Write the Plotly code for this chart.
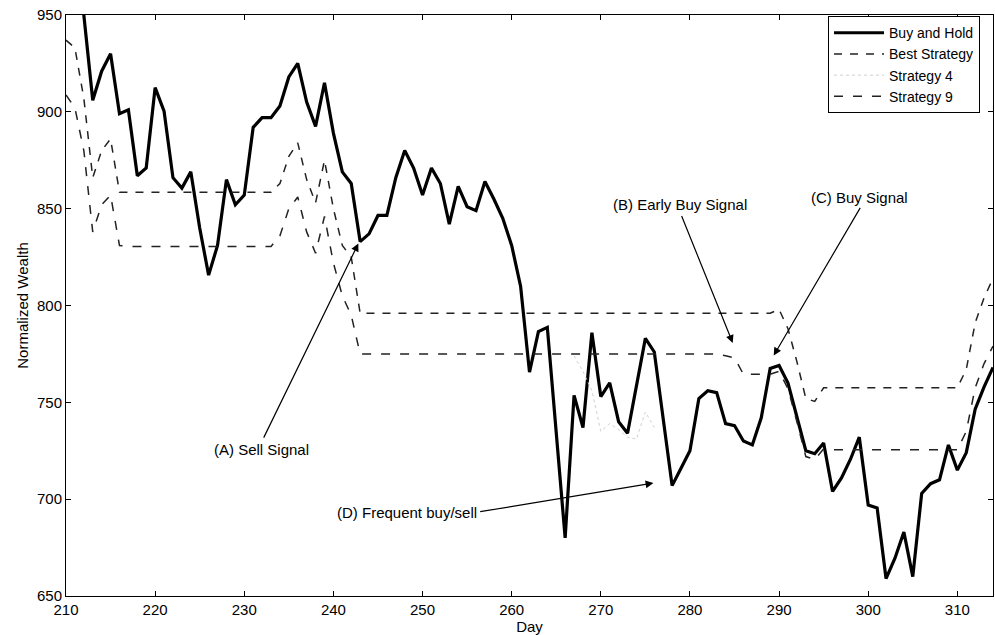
import plotly.graph_objects as go

days = list(range(210, 315))

buy_and_hold = [
    982, 975, 950, 906, 921, 930, 899, 901, 867, 871,
    912.5, 900.4, 866, 860.6, 869, 840, 815.7, 831, 865, 852,
    857, 892, 897, 897, 903, 918, 925, 905, 892.5, 915,
    889, 869, 863, 833, 837, 846.5, 846.5, 866, 880, 871,
    857, 871, 863, 842, 861.5, 851, 849, 864, 855, 845,
    831, 810, 765.6, 786.5, 788.7, 735, 680, 753.6, 737, 786,
    753, 760, 740, 734, 759, 783, 776, 741, 707, 716,
    725, 752, 756, 755, 739, 738, 730, 728, 742, 767.5,
    769, 760, 743, 725, 723.5, 729, 704, 711, 720.5, 732,
    697, 695.5, 659, 669.5, 683, 660, 703, 708, 710, 728,
    715, 724, 746.5, 758, 768,
]

best_strategy = [
    937, 933, 907, 866, 880, 886, 858.5, 858.5, 858.5, 858.5,
    858.5, 858.5, 858.5, 858.5, 858.5, 858.5, 858.5, 858.5, 858.5, 858.5,
    858.5, 858.5, 858.5, 858.5, 863, 877, 884, 865, 853, 875,
    850, 831, 825, 796, 796, 796, 796, 796, 796, 796,
    796, 796, 796, 796, 796, 796, 796, 796, 796, 796,
    796, 796, 796, 796, 796, 796, 796, 796, 796, 796,
    796, 796, 796, 796, 796, 796, 796, 796, 796, 796,
    796, 796, 796, 796, 796, 796, 796, 796, 796, 796,
    798, 788, 771, 752, 750.5, 757.5, 757.5, 757.5, 757.5, 757.5,
    757.5, 757.5, 757.5, 757.5, 757.5, 757.5, 757.5, 757.5, 757.5, 757.5,
    757.5, 767, 791, 804, 814,
]

strategy_9 = [
    908.7, 902, 880, 838, 852, 857, 831, 830.5, 830.5, 830.5,
    830.5, 830.5, 830.5, 830.5, 830.5, 830.5, 830.5, 830.5, 830.5, 830.5,
    830.5, 830.5, 830.5, 830.5, 836, 850, 856, 838, 827, 846,
    822, 805, 795, 775, 775, 775, 775, 775, 775, 775,
    775, 775, 775, 775, 775, 775, 775, 775, 775, 775,
    775, 775, 775, 775, 775, 775, 775, 775, 775, 775,
    775, 775, 775, 775, 775, 775, 775, 775, 775, 775,
    775, 775, 775, 775, 774, 773, 764.5, 764.5, 764.5, 764.5,
    766, 757, 740, 722, 720.5, 726, 725.5, 725.5, 725.5, 725.5,
    725.5, 725.5, 725.5, 725.5, 725.5, 725.5, 725.5, 725.5, 725.5, 725.5,
    725.5, 735, 757.5, 770, 779,
]

# Strategy 4 is a faint dotted line, only discernible in this stretch
strategy_4_days = [267, 268, 269, 270, 271, 272, 273, 274, 275, 276]
strategy_4 = [774, 766, 756, 735, 739, 736, 732, 731, 745, 737]

x_ticks = [210, 220, 230, 240, 250, 260, 270, 280, 290, 300, 310]
y_ticks = [650, 700, 750, 800, 850, 900, 950]

FONT = "Liberation Sans, Arial, Helvetica, sans-serif"

fig = go.Figure()
fig.add_trace(go.Scatter(x=days, y=buy_and_hold, mode="lines", name="Buy and Hold",
                         line=dict(color="black", width=3.2)))
fig.add_trace(go.Scatter(x=days, y=best_strategy, mode="lines", name="Best Strategy",
                         line=dict(color="#222222", width=1.5, dash="8px,8px")))
fig.add_trace(go.Scatter(x=strategy_4_days, y=strategy_4, mode="lines", name="Strategy 4",
                         line=dict(color="#d0d0d0", width=1, dash="dot")))
fig.add_trace(go.Scatter(x=days, y=strategy_9, mode="lines", name="Strategy 9",
                         line=dict(color="#222222", width=1.5, dash="9px,10px")))

# annotations: text labels
texts = [
    ("(A) Sell Signal", 231.9, 725.7),
    ("(D) Frequent buy/sell", 248.3, 693.3),
    ("(B) Early Buy Signal", 278.9, 852.3),
    ("(C) Buy Signal", 299.0, 855.8),
]
for t, x, y in texts:
    fig.add_annotation(x=x, y=y, text=t, showarrow=False,
                       font=dict(family=FONT, size=15, color="black"))

# arrows: (head_x, head_y, tail_x, tail_y)
arrows = [
    (242.8, 832, 232.1, 731),
    (275.9, 708.3, 256.3, 693.4),
    (284.8, 780.7, 279.0, 847),
    (289.4, 774.2, 299.2, 851.2),
]
for hx, hy, tx, ty in arrows:
    fig.add_annotation(x=hx, y=hy, ax=tx, ay=ty, xref="x", yref="y", axref="x", ayref="y",
                       text="", showarrow=True, arrowhead=2, arrowsize=1.3,
                       arrowwidth=1.2, arrowcolor="black")

axis_common = dict(showline=True, linecolor="black", linewidth=1, mirror="ticks",
                   ticks="inside", ticklen=5, tickcolor="black", showgrid=False,
                   zeroline=False, tickfont=dict(family=FONT, size=15, color="black"))

fig.update_layout(
    width=995, height=635,
    margin=dict(l=66, r=2, t=15, b=39),
    paper_bgcolor="white", plot_bgcolor="white",
    font=dict(family=FONT, size=15, color="black"),
    xaxis=dict(range=[210, 314], tickvals=x_ticks, ticktext=[str(v) for v in x_ticks],
               title=dict(text="Day", standoff=1, font=dict(family=FONT, size=15)),
               **axis_common),
    yaxis=dict(range=[650, 950], tickvals=y_ticks, ticktext=[str(v) for v in y_ticks],
               title=dict(text="Normalized Wealth", standoff=4, font=dict(family=FONT, size=15)),
               **axis_common),
    legend=dict(x=0.986, y=0.998, xanchor="right", yanchor="top",
                bgcolor="white", bordercolor="black", borderwidth=1,
                font=dict(family=FONT, size=14), itemwidth=50, tracegroupgap=0),
    showlegend=True,
)

fig.write_html("out.html")
